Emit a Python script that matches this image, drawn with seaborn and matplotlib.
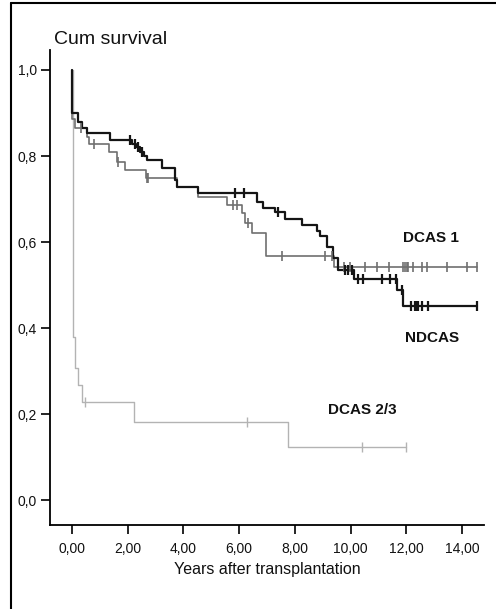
import matplotlib
matplotlib.use('Agg')
import matplotlib.pyplot as plt
from matplotlib.lines import Line2D
import seaborn as sns
import pandas as pd
import numpy as np

# Courbes de survie (Kaplan-Meier)
ndcas_times = [0, 0.22, 0.36, 0.54, 1.36, 2.15, 2.30, 2.45, 2.60, 2.70, 3.23, 3.70, 3.78,
               4.52, 6.64, 6.86, 7.29, 7.65, 8.26, 8.79, 8.90, 9.15, 9.37, 9.55, 10.12,
               11.67, 11.88]
ndcas_surv = [0.90, 0.88, 0.865, 0.853, 0.837, 0.828, 0.82, 0.81, 0.80, 0.79, 0.772, 0.745,
              0.728, 0.714, 0.693, 0.679, 0.67, 0.653, 0.64, 0.625, 0.613, 0.588, 0.563,
              0.535, 0.514, 0.488, 0.452]
ndcas_censor = [2.08, 2.26, 2.37, 2.51, 5.85, 6.17, 7.39, 9.80, 9.91, 10.05, 10.27, 10.45,
                11.13, 11.41, 11.63, 11.84, 12.17, 12.31, 12.38, 12.42, 12.56, 12.78, 14.54]

dcas1_times = [0, 0.10, 0.54, 0.60, 1.33, 1.62, 1.90, 2.65, 3.77, 4.52, 5.56, 6.10, 6.20,
               6.46, 6.96, 9.40]
dcas1_surv = [0.886, 0.865, 0.845, 0.828, 0.809, 0.786, 0.767, 0.749, 0.728, 0.705, 0.686,
              0.667, 0.644, 0.621, 0.567, 0.543]
dcas1_censor = [0.32, 0.79, 1.65, 2.69, 2.73, 5.78, 5.92, 6.32, 7.54, 9.08, 9.33, 9.76,
                9.98, 10.52, 10.95, 11.38, 11.88, 11.95, 12.02, 12.06, 12.24, 12.56, 12.74,
                13.46, 14.18, 14.54]

dcas23_times = [0, 0.05, 0.10, 0.22, 0.36, 2.23, 7.75]
dcas23_surv = [1.0, 0.38, 0.307, 0.267, 0.228, 0.181, 0.123]
dcas23_censor = [0.47, 6.28, 10.41, 12.0]

x_ticks = [0, 2, 4, 6, 8, 10, 12, 14]
x_labels = ['0,00', '2,00', '4,00', '6,00', '8,00', '10,00', '12,00', '14,00']
y_ticks = [0.0, 0.2, 0.4, 0.6, 0.8, 1.0]
y_labels = ['0,0', '0,2', '0,4', '0,6', '0,8', '1,0']


def build_curve(times, surv, censor):
    """
    Construit la courbe en escalier (départ à 1,0, fin au dernier censuré)
    """
    t = [0.0] + list(times) + [max(censor)]
    s = [1.0] + list(surv) + [surv[-1]]
    curve = pd.DataFrame({'time': t, 'surv': s})
    # valeur de survie au moment de chaque censure
    idx = np.searchsorted(np.array(times), np.array(censor), side='right') - 1
    marks = pd.DataFrame({'time': censor, 'surv': np.array(surv)[idx]})
    return curve, marks


sns.set_style('ticks')
plt.rcParams['font.family'] = ['Liberation Sans', 'DejaVu Sans']

fig = plt.figure(figsize=(4.96, 6.09), dpi=100)
ax = fig.add_axes([50 / 496, 1 - 525 / 609, 434 / 496, 475 / 609])

groups = [
    (dcas23_times, dcas23_surv, dcas23_censor, '#b3b3b3', 1.0),
    (dcas1_times, dcas1_surv, dcas1_censor, '#6f6f6f', 1.2),
    (ndcas_times, ndcas_surv, ndcas_censor, '#151515', 1.6),
]
for times, surv, censor, color, lw in groups:
    curve, marks = build_curve(times, surv, censor)
    sns.lineplot(data=curve, x='time', y='surv', ax=ax, color=color, linewidth=lw,
                 drawstyle='steps-post', estimator=None, sort=False)
    sns.scatterplot(data=marks, x='time', y='surv', ax=ax, color=color, marker='|',
                    s=50, linewidth=lw, zorder=3)

ax.set_xlim(-0.79, 14.79)
ax.set_ylim(-0.058, 1.0465)
ax.set_xticks(x_ticks)
ax.set_xticklabels(x_labels)
ax.set_yticks(y_ticks)
ax.set_yticklabels(y_labels)
ax.tick_params(axis='both', length=6.5, width=1.2, color='black', labelsize=10,
               labelcolor='#111111')
ax.tick_params(axis='x', pad=6)
ax.tick_params(axis='y', pad=3)
ax.set_xlabel('Years after transplantation', fontsize=11.5, color='#111111', labelpad=4)
ax.set_ylabel('')
for side in ['left', 'bottom']:
    ax.spines[side].set_linewidth(1.3)
    ax.spines[side].set_color('black')
sns.despine(ax=ax)

# Étiquettes des groupes
ax.text(11.88, 0.609, 'DCAS 1', fontsize=11, fontweight='bold', va='center', color='#111111')
ax.text(11.95, 0.377, 'NDCAS', fontsize=11, fontweight='bold', va='center', color='#111111')
ax.text(9.19, 0.209, 'DCAS 2/3', fontsize=11, fontweight='bold', va='center', color='#111111')

fig.text(54 / 496, 1 - 40 / 609, 'Cum survival', fontsize=14, va='center', ha='left',
         color='#111111')

# Cadre (haut et gauche)
fig.add_artist(Line2D([11 / 496, 1.0], [1 - 3 / 609, 1 - 3 / 609], color='black',
                      linewidth=1.5, transform=fig.transFigure))
fig.add_artist(Line2D([11 / 496, 11 / 496], [0.0, 1 - 3 / 609], color='black',
                      linewidth=1.5, transform=fig.transFigure))

plt.savefig('out.png', dpi=100)
plt.close()
